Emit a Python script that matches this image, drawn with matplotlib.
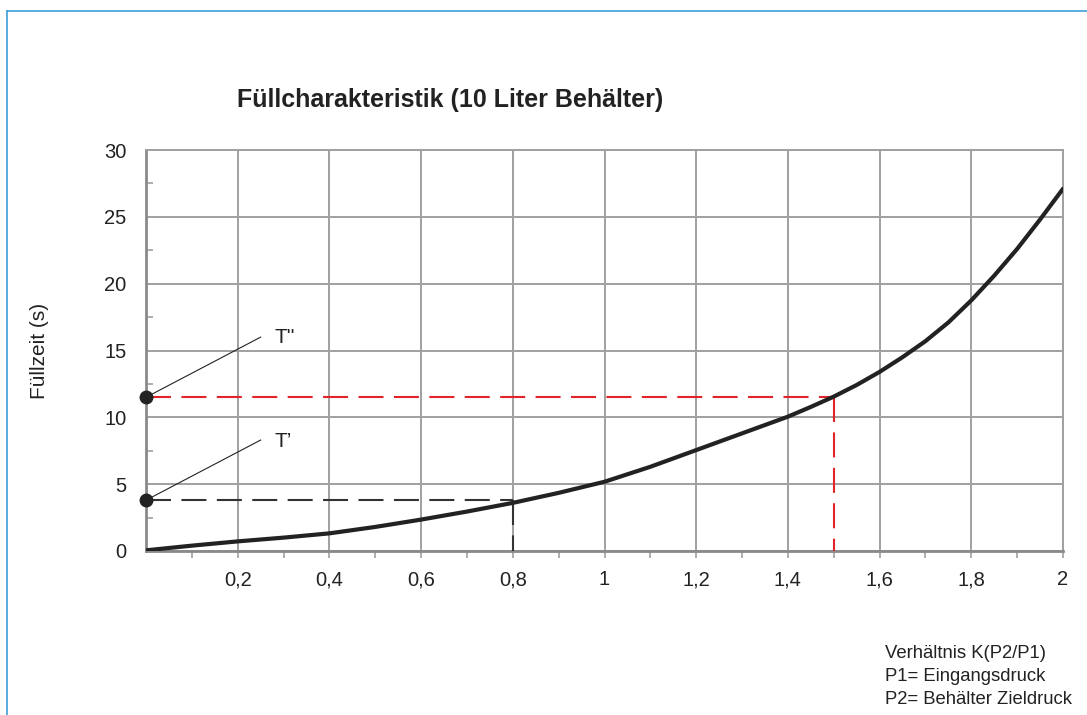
import numpy as np
import matplotlib.pyplot as plt
from matplotlib.lines import Line2D

plt.rcParams['font.family'] = ['Liberation Sans', 'DejaVu Sans']

# data
K = [0, 0.1, 0.2, 0.3, 0.4, 0.5, 0.6, 0.7, 0.8, 0.9, 1.0, 1.1, 1.2, 1.3,
     1.4, 1.45, 1.5, 1.55, 1.6, 1.65, 1.7, 1.75, 1.8, 1.85, 1.9, 1.95, 2.0]
T = [0.05, 0.4, 0.72, 1.0, 1.32, 1.8, 2.35, 2.95, 3.6, 4.35, 5.18, 6.3, 7.55,
     8.8, 10.05, 10.78, 11.55, 12.42, 13.4, 14.5, 15.7, 17.1, 18.75, 20.6,
     22.6, 24.8, 27.1]
x_ticks = [0.2, 0.4, 0.6, 0.8, 1.0, 1.2, 1.4, 1.6, 1.8, 2.0]
x_labels = ['0,2', '0,4', '0,6', '0,8', '1', '1,2', '1,4', '1,6', '1,8', '2']
y_ticks = [0, 5, 10, 15, 20, 25, 30]
k1, t1 = 0.8, 3.8    # T'
k2, t2 = 1.5, 11.5   # T''

fig = plt.figure(figsize=(10.87, 7.15), dpi=100)
ax = fig.add_axes([146/1087, 1-551/715, (1063-146)/1087, 401/715])

gridc = '#a0a0a0'
ax.set_xlim(0, 2)
ax.set_ylim(0, 30)
ax.set_xticks(x_ticks)
ax.set_xticklabels(x_labels)
ax.set_xticks(np.arange(0.1, 2.0, 0.2), minor=True)
ax.set_yticks(y_ticks)
ax.set_yticks(np.arange(2.5, 30, 5), minor=True)
ax.grid(True, which='major', color=gridc, linewidth=1.4)
ax.tick_params(axis='x', which='both', direction='out', length=5, width=1.2,
               color=gridc, labelsize=14.5, pad=9, labelcolor='#222222')
ax.tick_params(axis='y', which='major', length=0, labelsize=14.5, pad=14,
               labelcolor='#222222')
ax.tick_params(axis='y', which='minor', direction='in', length=5, width=1.2,
               color=gridc)
for s in ax.spines.values():
    s.set_color(gridc)
    s.set_linewidth(1.4)
ax.spines['left'].set_color('#8a8a8a')
ax.spines['left'].set_linewidth(2)
ax.spines['bottom'].set_color('#8a8a8a')
ax.spines['bottom'].set_linewidth(2)

dash = (0, (12, 5))
ax.plot([0, k2], [t2, t2], color='#e0242a', lw=1.5, linestyle=dash, zorder=3)
ax.plot([k2, k2], [t2, 0], color='#e0242a', lw=1.5, linestyle=dash, zorder=3)
ax.plot([0, k1], [t1, t1], color='#333333', lw=1.5, linestyle=dash, zorder=3)
ax.plot([k1, k1], [t1, 0], color='#333333', lw=1.5, linestyle=dash, zorder=3)

ax.plot(K, T, color='#222222', lw=3, solid_capstyle='round',
        solid_joinstyle='round', zorder=4)

# leader lines and markers
ax.plot([0, 0.25], [t2, 16.0], color='#222222', lw=0.8, zorder=5, clip_on=False)
ax.plot([0, 0.25], [t1, 8.3], color='#222222', lw=0.8, zorder=5, clip_on=False)
ax.plot([0, 0], [t2, t1], 'o', color='#222222', ms=9, zorder=6, clip_on=False)
ax.text(0.28, 16.0, "T''", fontsize=15, color='#222222', va='center')
ax.text(0.28, 8.2, "T’", fontsize=15, color='#222222', va='center')

ax.set_ylabel('Füllzeit (s)', fontsize=15, color='#222222', labelpad=40)

fig.text(450/1087, 1-100/715, 'Füllcharakteristik (10 Liter Behälter)',
         fontsize=18, fontweight='bold', ha='center', va='center', color='#222222')

for i, line in enumerate(['Verhältnis K(P2/P1)', 'P1= Eingangsdruck',
                          'P2= Behälter Zieldruck']):
    fig.text(885/1087, 1-(653+23.5*i)/715, line, fontsize=13.3,
             va='center', color='#222222')

# blue frame (top and left)
fig.add_artist(Line2D([7/1087, 1], [1-11/715, 1-11/715], color='#3aa0d8', lw=1.2))
fig.add_artist(Line2D([7/1087, 7/1087], [0, 1-11/715], color='#3aa0d8', lw=1.2))

fig.savefig('out.png', dpi=100)
